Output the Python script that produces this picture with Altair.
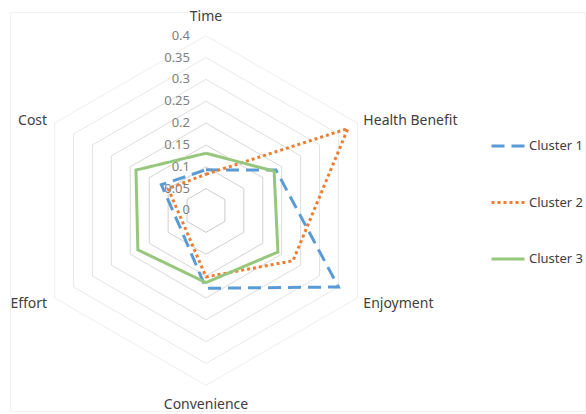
import altair as alt
import pandas as pd

categories = ["Time", "Health Benefit", "Enjoyment", "Convenience", "Effort", "Cost"]
clusters = ["Cluster 1", "Cluster 2", "Cluster 3"]
cluster1 = [0.093, 0.185, 0.35, 0.178, 0.07, 0.118]
cluster2 = [0.083, 0.375, 0.23, 0.152, 0.06, 0.10]
cluster3 = [0.131, 0.18, 0.19, 0.165, 0.18, 0.185]
tick_values = [0, 0.05, 0.1, 0.15, 0.2, 0.25, 0.3, 0.35, 0.4]
tick_labels = ["0", "0.05", "0.1", "0.15", "0.2", "0.25", "0.3", "0.35", "0.4"]
axis_max = 0.4

colors = ["#5b9bd5", "#ed7d31", "#96c77c"]
dashes = [[13, 7], [3, 3], [1, 0]]
FONT = "Noto Sans"

# series table (closed polygons)
rows = []
for name, vals in zip(clusters, [cluster1, cluster2, cluster3]):
    for i in range(len(categories) + 1):
        rows.append({"cluster": name, "idx": i, "value": vals[i % len(categories)],
                     "category": categories[i % len(categories)]})
series_df = pd.DataFrame(rows)

# grid rings
ring_rows = []
for v in tick_values[1:]:
    for i in range(len(categories) + 1):
        ring_rows.append({"ring": v, "idx": i, "value": v})
ring_df = pd.DataFrame(ring_rows)

tick_df = pd.DataFrame({"value": tick_values, "label": tick_labels})
cat_df = pd.DataFrame({"category": categories, "idx": list(range(len(categories))),
                       "value": [axis_max] * len(categories)})

xs = alt.Scale(domain=[-0.4485, 0.8673], nice=False, zero=False)
ys = alt.Scale(domain=[-0.4588, 0.4542], nice=False, zero=False)


def polar(chart):
    return chart.transform_calculate(
        ang="PI/2 - datum.idx * PI / 3"
    ).transform_calculate(
        px="datum.value * cos(datum.ang)", py="datum.value * sin(datum.ang)"
    )


X = alt.X("px:Q", scale=xs, axis=None)
Y = alt.Y("py:Q", scale=ys, axis=None)

grid = polar(alt.Chart(ring_df)).mark_line(strokeWidth=1, color="#c4c4c4").encode(
    x=X, y=Y, detail="ring:N", order="idx:Q",
    strokeOpacity=alt.StrokeOpacity("ring:Q", scale=alt.Scale(domain=[0.05, 0.4], range=[0.9, 0.3]), legend=None),
)

ticks = alt.Chart(tick_df).mark_text(
    align="right", baseline="middle", dx=-16, font=FONT, fontSize=13, color="#808080"
).encode(
    x=alt.X("zero:Q", scale=xs, axis=None), y=alt.Y("value:Q", scale=ys, axis=None), text="label:N"
).transform_calculate(zero="0")

leg = alt.Legend(title=None, orient="none", legendX=480, legendY=116, symbolType="stroke",
                 symbolSize=1089, symbolStrokeWidth=3, labelFontSize=13, labelFont=FONT,
                 labelColor="#404040", rowPadding=31.5, labelOffset=3, padding=0)

lines = polar(alt.Chart(series_df)).mark_line(strokeWidth=3, strokeCap="butt", strokeJoin="miter").encode(
    x=X, y=Y, order="idx:Q",
    color=alt.Color("cluster:N", scale=alt.Scale(domain=clusters, range=colors), legend=leg),
    strokeDash=alt.StrokeDash("cluster:N", scale=alt.Scale(domain=clusters, range=dashes), legend=leg),
)

label_styles = {
    "Time": ("center", 0, -18.5),
    "Health Benefit": ("left", 6, -2),
    "Enjoyment": ("left", 6, 6),
    "Convenience": ("center", 0, 19.5),
    "Effort": ("right", -7.5, 6),
    "Cost": ("right", -7.5, -2),
}
label_layers = []
for cat, (al, ddx, ddy) in label_styles.items():
    label_layers.append(
        polar(alt.Chart(cat_df)).transform_filter(alt.datum.category == cat).mark_text(
            align=al, baseline="middle", dx=ddx, dy=ddy, font=FONT, fontSize=14, color="#404040"
        ).encode(x=X, y=Y, text="category:N")
    )

chart = alt.layer(grid, ticks, lines, *label_layers).properties(
    width=575, height=399,
    autosize=alt.AutoSizeParams(type="none"),
    padding={"left": 10, "top": 12, "right": 1, "bottom": 3},
    background="white",
).configure_view(stroke="#f2f2f2", strokeWidth=1)

chart.save("out.html", embed_options={"renderer": "svg", "actions": False})
